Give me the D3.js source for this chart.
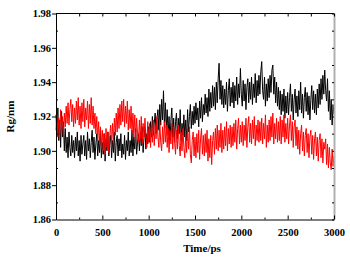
<!DOCTYPE html>
<html>
<head>
<meta charset="utf-8">
<script src="https://cdn.jsdelivr.net/npm/d3@7"></script>
<style>
    body { margin: 0; background: #fff; }
    #chart { width: 350px; height: 257px; }
</style>
</head>
<body>
<div id="chart"></div>
<script>

// time axis (ps), one sample every 10 ps
const times = [
    0,10,20,30,40,50,60,70,80,90,
    100,110,120,130,140,150,160,170,180,190,
    200,210,220,230,240,250,260,270,280,290,
    300,310,320,330,340,350,360,370,380,390,
    400,410,420,430,440,450,460,470,480,490,
    500,510,520,530,540,550,560,570,580,590,
    600,610,620,630,640,650,660,670,680,690,
    700,710,720,730,740,750,760,770,780,790,
    800,810,820,830,840,850,860,870,880,890,
    900,910,920,930,940,950,960,970,980,990,
    1000,1010,1020,1030,1040,1050,1060,1070,1080,1090,
    1100,1110,1120,1130,1140,1150,1160,1170,1180,1190,
    1200,1210,1220,1230,1240,1250,1260,1270,1280,1290,
    1300,1310,1320,1330,1340,1350,1360,1370,1380,1390,
    1400,1410,1420,1430,1440,1450,1460,1470,1480,1490,
    1500,1510,1520,1530,1540,1550,1560,1570,1580,1590,
    1600,1610,1620,1630,1640,1650,1660,1670,1680,1690,
    1700,1710,1720,1730,1740,1750,1760,1770,1780,1790,
    1800,1810,1820,1830,1840,1850,1860,1870,1880,1890,
    1900,1910,1920,1930,1940,1950,1960,1970,1980,1990,
    2000,2010,2020,2030,2040,2050,2060,2070,2080,2090,
    2100,2110,2120,2130,2140,2150,2160,2170,2180,2190,
    2200,2210,2220,2230,2240,2250,2260,2270,2280,2290,
    2300,2310,2320,2330,2340,2350,2360,2370,2380,2390,
    2400,2410,2420,2430,2440,2450,2460,2470,2480,2490,
    2500,2510,2520,2530,2540,2550,2560,2570,2580,2590,
    2600,2610,2620,2630,2640,2650,2660,2670,2680,2690,
    2700,2710,2720,2730,2740,2750,2760,2770,2780,2790,
    2800,2810,2820,2830,2840,2850,2860,2870,2880,2890,
    2900,2910,2920,2930,2940,2950,2960,2970,2980,2990,
    3000
];

// Rg (nm), black run
const rgBlack = [
    1.921,1.909,1.925,1.906,1.918,1.902,1.923,1.908,1.917,1.900,
    1.913,1.899,1.908,1.896,1.911,1.902,1.897,1.909,1.899,1.906,
    1.896,1.908,1.900,1.911,1.897,1.906,1.894,1.909,1.898,1.904,
    1.909,1.897,1.906,1.895,1.911,1.900,1.907,1.896,1.905,1.912,
    1.899,1.908,1.895,1.904,1.910,1.897,1.906,1.899,1.912,1.896,
    1.905,1.898,1.910,1.894,1.907,1.900,1.911,1.897,1.904,1.909,
    1.896,1.906,1.899,1.911,1.894,1.905,1.909,1.897,1.907,1.900,
    1.910,1.896,1.904,1.898,1.909,1.895,1.906,1.900,1.911,1.897,
    1.906,1.899,1.912,1.897,1.908,1.901,1.913,1.898,1.905,1.910,
    1.900,1.911,1.903,1.914,1.899,1.908,1.913,1.901,1.910,1.904,
    1.914,1.905,1.917,1.908,1.920,1.909,1.916,1.922,1.910,1.919,
    1.924,1.912,1.927,1.915,1.930,1.918,1.935,1.914,1.928,1.913,
    1.924,1.909,1.920,1.906,1.918,1.925,1.908,1.919,1.905,1.917,
    1.922,1.907,1.919,1.910,1.924,1.906,1.916,1.909,1.921,1.908,
    1.918,1.906,1.924,1.911,1.920,1.927,1.913,1.923,1.915,1.926,
    1.916,1.928,1.918,1.925,1.914,1.929,1.919,1.931,1.917,1.927,
    1.921,1.933,1.922,1.931,1.920,1.936,1.923,1.934,1.925,1.938,
    1.926,1.937,1.924,1.940,1.928,1.942,1.951,1.930,1.941,1.927,
    1.938,1.925,1.936,1.927,1.940,1.923,1.935,1.942,1.926,1.937,
    1.928,1.940,1.925,1.938,1.929,1.943,1.927,1.939,1.931,1.948,
    1.933,1.926,1.941,1.929,1.939,1.924,1.937,1.942,1.928,1.940,
    1.930,1.943,1.927,1.939,1.931,1.945,1.928,1.941,1.932,1.944,
    1.933,1.946,1.952,1.935,1.930,1.943,1.926,1.939,1.929,1.942,
    1.931,1.944,1.934,1.947,1.950,1.933,1.943,1.928,1.940,1.926,
    1.937,1.924,1.935,1.921,1.933,1.923,1.936,1.919,1.932,1.922,
    1.934,1.921,1.931,1.939,1.923,1.933,1.918,1.930,1.936,1.922,
    1.932,1.920,1.935,1.924,1.940,1.922,1.933,1.919,1.931,1.937,
    1.923,1.934,1.921,1.932,1.918,1.930,1.938,1.924,1.935,1.922,
    1.933,1.921,1.936,1.925,1.939,1.927,1.942,1.930,1.944,1.933,
    1.947,1.935,1.929,1.942,1.923,1.935,1.918,1.930,1.915,1.927,
    1.921
];

// Rg (nm), red run
const rgRed = [
    1.912,1.921,1.908,1.919,1.910,1.924,1.913,1.920,1.909,1.922,
    1.914,1.926,1.916,1.928,1.915,1.924,1.930,1.917,1.927,1.914,
    1.925,1.916,1.929,1.918,1.931,1.915,1.926,1.913,1.928,1.917,
    1.930,1.914,1.925,1.918,1.929,1.913,1.927,1.916,1.931,1.915,
    1.926,1.913,1.922,1.910,1.920,1.906,1.917,1.904,1.914,1.902,
    1.912,1.900,1.910,1.898,1.913,1.902,1.911,1.899,1.909,1.915,
    1.903,1.916,1.906,1.919,1.909,1.922,1.911,1.925,1.913,1.927,
    1.915,1.929,1.917,1.930,1.914,1.926,1.916,1.929,1.912,1.924,
    1.913,1.926,1.910,1.922,1.908,1.921,1.906,1.919,1.910,1.905,
    1.918,1.907,1.920,1.904,1.916,1.908,1.919,1.909,1.902,1.917,
    1.905,1.916,1.902,1.914,1.905,1.918,1.903,1.915,1.907,1.920,
    1.908,1.902,1.917,1.905,1.900,1.914,1.904,1.917,1.905,1.915,
    1.902,1.913,1.899,1.912,1.904,1.916,1.901,1.914,1.905,1.898,
    1.912,1.901,1.915,1.903,1.897,1.911,1.900,1.913,1.902,1.896,
    1.910,1.899,1.913,1.901,1.914,1.898,1.893,1.906,1.911,1.897,
    1.908,1.896,1.910,1.899,1.912,1.895,1.907,1.913,1.898,1.909,
    1.897,1.910,1.899,1.912,1.894,1.907,1.896,1.909,1.892,1.906,
    1.911,1.898,1.913,1.901,1.915,1.900,1.912,1.902,1.916,1.899,
    1.912,1.901,1.914,1.903,1.917,1.900,1.913,1.904,1.915,1.902,
    1.914,1.903,1.916,1.905,1.918,1.901,1.913,1.919,1.904,1.915,
    1.905,1.917,1.903,1.915,1.906,1.919,1.902,1.914,1.920,1.905,
    1.916,1.904,1.918,1.907,1.920,1.903,1.915,1.906,1.918,1.905,
    1.917,1.906,1.919,1.904,1.916,1.907,1.921,1.902,1.915,1.905,
    1.918,1.906,1.920,1.908,1.922,1.904,1.916,1.907,1.919,1.905,
    1.917,1.906,1.920,1.904,1.918,1.908,1.921,1.905,1.916,1.907,
    1.919,1.904,1.915,1.921,1.906,1.917,1.902,1.914,1.918,1.903,
    1.914,1.901,1.912,1.898,1.910,1.915,1.900,1.911,1.897,1.909,
    1.913,1.899,1.910,1.896,1.908,1.912,1.898,1.909,1.895,1.907,
    1.911,1.897,1.908,1.894,1.906,1.910,1.896,1.907,1.893,1.905,
    1.901,1.907,1.892,1.904,1.890,1.902,1.893,1.889,1.901,1.891,
    1.897
];

// axis ticks
const xTicks = [0, 500, 1000, 1500, 2000, 2500, 3000];
const xMinorTicks = [250, 750, 1250, 1750, 2250, 2750];
const yTicks = [1.86, 1.88, 1.90, 1.92, 1.94, 1.96, 1.98];
const yMinorTicks = [1.87, 1.89, 1.91, 1.93, 1.95, 1.97];

const serif = '"Liberation Serif", "Times New Roman", serif';

class RgVis {

    constructor(parentElement) {
        this.parentElement = parentElement;
        this.initVis();
    }

    initVis() {
        let vis = this;

        vis.margin = {top: 13.5, right: 16, bottom: 37.5, left: 56};
        vis.width = 350 - vis.margin.left - vis.margin.right;
        vis.height = 257 - vis.margin.top - vis.margin.bottom;

        vis.svg = d3.select("#" + vis.parentElement).append("svg")
            .attr("width", 350)
            .attr("height", 257)
            .append("g")
            .attr("transform", `translate(${vis.margin.left}, ${vis.margin.top})`);

        vis.x = d3.scaleLinear().domain([0, 3000]).range([0, vis.width]);
        vis.y = d3.scaleLinear().domain([1.86, 1.98]).range([vis.height, 0]);

        vis.updateVis();
    }

    updateVis() {
        let vis = this;

        let line = d3.line()
            .x((d, i) => vis.x(times[i]))
            .y(d => vis.y(d));

        // series
        vis.svg.append("path")
            .datum(rgBlack)
            .attr("fill", "none")
            .attr("stroke", "#000")
            .attr("stroke-width", 1)
            .attr("d", line);

        vis.svg.append("path")
            .datum(rgRed)
            .attr("fill", "none")
            .attr("stroke", "#ff0000")
            .attr("stroke-width", 1)
            .attr("d", line);

        // frame: top and right edges
        vis.svg.append("line")
            .attr("x1", 0).attr("x2", vis.width)
            .attr("y1", 0).attr("y2", 0)
            .attr("stroke", "#000").attr("stroke-width", 1);
        vis.svg.append("line")
            .attr("x1", vis.width + 0.5).attr("x2", vis.width + 0.5)
            .attr("y1", 0).attr("y2", vis.height)
            .attr("stroke", "#b0b0b0").attr("stroke-width", 2);

        // bottom axis, ticks inward
        let bottom = vis.svg.append("g")
            .attr("transform", `translate(0, ${vis.height})`)
            .call(d3.axisBottom(vis.x).tickValues(xTicks).tickSize(-4).tickPadding(9)
                .tickFormat(d3.format("d")).tickSizeOuter(0));
        vis.svg.append("g")
            .attr("transform", `translate(0, ${vis.height})`)
            .call(d3.axisBottom(vis.x).tickValues(xMinorTicks).tickSize(-2).tickFormat("").tickSizeOuter(0))
            .select(".domain").remove();

        // top axis ticks
        vis.svg.append("g")
            .call(d3.axisTop(vis.x).tickValues(xTicks.concat(xMinorTicks)).tickSize(-3).tickFormat("").tickSizeOuter(0))
            .select(".domain").remove();

        // left axis: major ticks outward, minor inward
        let left = vis.svg.append("g")
            .call(d3.axisLeft(vis.y).tickValues(yTicks).tickSize(4).tickPadding(1)
                .tickFormat(d3.format(".2f")).tickSizeOuter(0));
        vis.svg.append("g")
            .call(d3.axisLeft(vis.y).tickValues(yMinorTicks).tickSize(-2).tickFormat("").tickSizeOuter(0))
            .select(".domain").remove();

        // right axis ticks
        vis.svg.append("g")
            .attr("transform", `translate(${vis.width}, 0)`)
            .call(d3.axisRight(vis.y).tickValues(yTicks.concat(yMinorTicks)).tickSize(-2).tickFormat("").tickSizeOuter(0))
            .select(".domain").remove();

        vis.svg.selectAll(".tick line").attr("stroke", "#000");
        vis.svg.selectAll(".domain").attr("stroke", "#000");
        [bottom, left].forEach(g => g
            .attr("font-family", serif)
            .attr("font-size", 10.5)
            .attr("font-weight", "bold"));
        vis.svg.selectAll(".tick text").attr("fill", "#000");

        // titles
        vis.svg.append("text")
            .attr("x", vis.width / 2 + 7)
            .attr("y", vis.height + 32)
            .attr("text-anchor", "middle")
            .attr("font-family", serif)
            .attr("font-size", 11)
            .attr("font-weight", "bold")
            .text("Time/ps");

        vis.svg.append("text")
            .attr("transform", `translate(${-42}, ${vis.height / 2}) rotate(-90)`)
            .attr("text-anchor", "middle")
            .attr("font-family", serif)
            .attr("font-size", 11)
            .attr("font-weight", "bold")
            .text("Rg/nm");
    }
}

new RgVis("chart");
</script>
</body>
</html>
